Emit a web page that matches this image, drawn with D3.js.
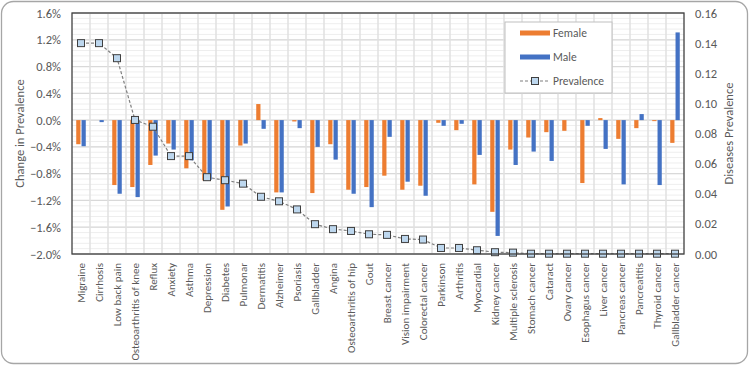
<!DOCTYPE html>
<html>
<head>
<meta charset="utf-8">
<script src="https://cdn.jsdelivr.net/npm/d3@7"></script>
<style>
  body { margin: 0; background: #fff; }
  text { font-family: Carlito, Lato, sans-serif; fill: #595959; }
</style>
</head>
<body>
<div id="chart"></div>
<script>
// categories in the order they appear
const diseases = ["Migraine", "Cirrhosis", "Low back pain", "Osteoarthritis of knee", "Reflux",
  "Anxiety", "Asthma", "Depression", "Diabetes", "Pulmonar", "Dermatitis", "Alzheimer",
  "Psoriasis", "Gallbladder", "Angina", "Osteoarthritis of hip", "Gout", "Breast cancer",
  "Vision impairment", "Colorectal cancer", "Parkinson", "Arthritis", "Myocardial",
  "Kidney cancer", "Multiple sclerosis", "Stomach cancer", "Cataract", "Ovary cancer",
  "Esophagus cancer", "Liver cancer", "Pancreas cancer", "Pancreatitis", "Thyroid cancer",
  "Gallbladder cancer"];

// change in prevalence, %
const female = [-0.36, 0, -0.97, -1.0, -0.67, -0.35, -0.72, -0.9, -1.34, -0.38, 0.24, -1.08,
  -0.02, -1.09, -0.36, -1.04, -1.0, -0.83, -1.04, -0.98, -0.04, -0.15, -0.96, -1.37, -0.44,
  -0.26, -0.18, -0.16, -0.94, 0.03, -0.28, -0.12, -0.015, -0.34];
const male = [-0.39, -0.03, -1.1, -1.15, -0.53, -0.44, -0.6, -0.89, -1.29, -0.35, -0.13, -1.08,
  -0.12, -0.4, -0.59, -1.1, -1.3, -0.25, -0.92, -1.13, -0.085, -0.055, -0.52, -1.73, -0.67,
  -0.47, -0.61, 0, -0.085, -0.43, -0.96, 0.09, -0.97, 1.31];

// disease prevalence (right axis)
const prevalence = [0.14, 0.14, 0.13, 0.089, 0.0845, 0.065, 0.065, 0.051, 0.049, 0.0467, 0.038,
  0.035, 0.0296, 0.0198, 0.0165, 0.0153, 0.0131, 0.0127, 0.010, 0.0096, 0.004, 0.004, 0.0025,
  0.0012, 0.0009, 0.0002, 0.0002, 0.0002, 0.0002, 0.0002, 0.0002, 0.0002, 0.0002, 0.0002];

const leftTicks = [1.6, 1.2, 0.8, 0.4, 0, -0.4, -0.8, -1.2, -1.6, -2.0];
const rightTicks = [0, 0.02, 0.04, 0.06, 0.08, 0.10, 0.12, 0.14, 0.16];

const W = 750, H = 366;
const margin = { top: 13, right: 66, bottom: 112, left: 72 };
const width = W - margin.left - margin.right;
const height = H - margin.top - margin.bottom;

const orange = "#ED7D31", blue = "#4472C4";

const svg = d3.select("#chart").append("svg")
  .attr("width", W).attr("height", H);

// outer frame
svg.append("rect")
  .attr("x", 1.5).attr("y", 1.5)
  .attr("width", W - 4).attr("height", H - 4)
  .attr("rx", 12)
  .attr("fill", "#fff").attr("stroke", "#a6a6a6").attr("stroke-width", 1.3);

const g = svg.append("g")
  .attr("transform", "translate(" + margin.left + "," + margin.top + ")");

const x = d3.scaleBand().domain(diseases).range([0, width]).paddingInner(0.47).paddingOuter(0.235);
const xSub = d3.scaleBand().domain(["female", "male"]).range([0, x.bandwidth()]).paddingInner(0.2);
const y = d3.scaleLinear().domain([-2.0, 1.6]).range([height, 0]);
const y2 = d3.scaleLinear().domain([0, 0.16]).range([height, 0]);

// minor grid
g.append("g").selectAll("line")
  .data(d3.range(-2.0, 1.6001, 0.08))
  .join("line")
  .attr("x1", 0).attr("x2", width)
  .attr("y1", d => y(d)).attr("y2", d => y(d))
  .attr("stroke", "#eeeeee").attr("stroke-width", 1);

// major grid
g.append("g").selectAll("line")
  .data(leftTicks)
  .join("line")
  .attr("x1", 0).attr("x2", width)
  .attr("y1", d => y(d)).attr("y2", d => y(d))
  .attr("stroke", "#d9d9d9").attr("stroke-width", 1.3);

// vertical grid at category boundaries
const step = x.step();
g.append("g").selectAll("line")
  .data(d3.range(1, diseases.length))
  .join("line")
  .attr("x1", d => d * step).attr("x2", d => d * step)
  .attr("y1", 0).attr("y2", height)
  .attr("stroke", "#e0e0e0").attr("stroke-width", 1.5);

// bars
const rows = diseases.map((d, i) => ({ name: d, female: female[i], male: male[i] }));
const grp = g.append("g").selectAll("g")
  .data(rows)
  .join("g")
  .attr("transform", d => "translate(" + x(d.name) + ",0)");

grp.selectAll("rect")
  .data(d => [{ key: "female", v: d.female }, { key: "male", v: d.male }])
  .join("rect")
  .attr("x", d => xSub(d.key))
  .attr("width", xSub.bandwidth())
  .attr("y", d => y(Math.max(0, d.v)))
  .attr("height", d => Math.abs(y(d.v) - y(0)))
  .attr("fill", d => d.key === "female" ? orange : blue);

// prevalence line
const line = d3.line()
  .x((d, i) => x(diseases[i]) + x.bandwidth() / 2)
  .y(d => y2(d));

g.append("path")
  .datum(prevalence)
  .attr("d", line)
  .attr("fill", "none")
  .attr("stroke", "#7f7f7f")
  .attr("stroke-width", 1.2)
  .attr("stroke-dasharray", "3,2");

const ms = 7;
g.append("g").selectAll("rect")
  .data(prevalence)
  .join("rect")
  .attr("x", (d, i) => x(diseases[i]) + x.bandwidth() / 2 - ms / 2)
  .attr("y", d => y2(d) - ms / 2)
  .attr("width", ms).attr("height", ms)
  .attr("fill", "#bdd7ee")
  .attr("stroke", "#404040")
  .attr("stroke-width", 1);

// plot frame
g.append("rect")
  .attr("width", width).attr("height", height)
  .attr("fill", "none").attr("stroke", "#404040").attr("stroke-width", 1.3);

// left axis
const yAxis = d3.axisLeft(y).tickValues(leftTicks).tickSize(0).tickPadding(11)
  .tickFormat(d => d3.format(".1f")(d) + "%");
g.append("g").call(yAxis)
  .call(s => s.select(".domain").remove())
  .selectAll("text").style("font-size", "12.5px").attr("fill", "#595959");

// right axis
const y2Axis = d3.axisRight(y2).tickValues(rightTicks).tickSize(0).tickPadding(11)
  .tickFormat(d3.format(".2f"));
g.append("g").attr("transform", "translate(" + width + ",0)").call(y2Axis)
  .call(s => s.select(".domain").remove())
  .selectAll("text").style("font-size", "12.5px").attr("fill", "#595959");

// x labels
g.append("g").selectAll("text")
  .data(diseases)
  .join("text")
  .attr("transform", d => "translate(" + (x(d) + x.bandwidth() / 2) + "," + (height + 9) + ") rotate(-90)")
  .attr("dy", "0.35em")
  .attr("text-anchor", "end")
  .style("font-size", "11px")
  .text(d => d);

// axis titles
svg.append("text")
  .attr("transform", "translate(24," + (margin.top + height / 2) + ") rotate(-90)")
  .attr("text-anchor", "middle")
  .style("font-size", "12.5px")
  .text("Change in Prevalence");

svg.append("text")
  .attr("transform", "translate(733," + (margin.top + height / 2) + ") rotate(-90)")
  .attr("text-anchor", "middle")
  .style("font-size", "12.5px")
  .text("Diseases Prevalence");

// legend
const lg = svg.append("g").attr("transform", "translate(505,22)");
lg.append("rect").attr("width", 107).attr("height", 71)
  .attr("fill", "#fff").attr("stroke", "#bfbfbf").attr("stroke-width", 1);
const items = [
  { label: "Female", color: orange, y: 11 },
  { label: "Male", color: blue, y: 35 }
];
items.forEach(it => {
  lg.append("rect").attr("x", 15).attr("y", it.y - 2.5).attr("width", 30).attr("height", 5)
    .attr("fill", it.color);
  lg.append("text").attr("x", 48).attr("y", it.y).attr("dy", "0.35em")
    .style("font-size", "11.5px").text(it.label);
});
lg.append("line").attr("x1", 15).attr("x2", 45).attr("y1", 59).attr("y2", 59)
  .attr("stroke", "#7f7f7f").attr("stroke-width", 1.2).attr("stroke-dasharray", "3,2");
lg.append("rect").attr("x", 30 - 3.5).attr("y", 59 - 3.5).attr("width", 7).attr("height", 7)
  .attr("fill", "#bdd7ee").attr("stroke", "#404040");
lg.append("text").attr("x", 48).attr("y", 59).attr("dy", "0.35em")
  .style("font-size", "11.5px").text("Prevalence");
</script>
</body>
</html>
